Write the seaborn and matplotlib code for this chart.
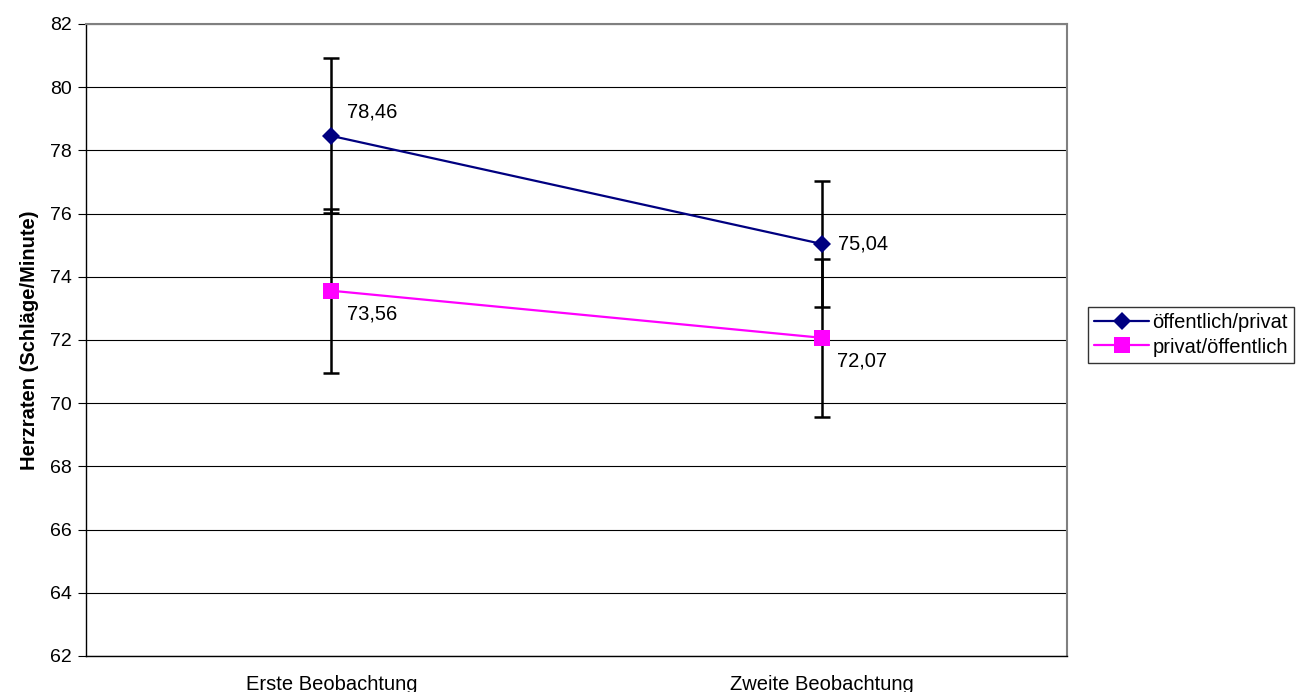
import numpy as np
import pandas as pd
import matplotlib
matplotlib.use('Agg')
import matplotlib.pyplot as plt
import seaborn as sns
from matplotlib.lines import Line2D

# Data
categories = ['Erste Beobachtung', 'Zweite Beobachtung']
series_names = ['öffentlich/privat', 'privat/öffentlich']
oeff_priv = [78.46, 75.04]
priv_oeff = [73.56, 72.07]
oeff_priv_err = [2.45, 2.0]
priv_oeff_err = [2.6, 2.5]
y_ticks = [62, 64, 66, 68, 70, 72, 74, 76, 78, 80, 82]

sns.set_style('white')
plt.rcParams['font.family'] = ['Liberation Sans', 'DejaVu Sans']
plt.rcParams['text.color'] = 'black'
plt.rcParams['axes.labelcolor'] = 'black'
plt.rcParams['xtick.color'] = 'black'
plt.rcParams['ytick.color'] = 'black'

fs = 14.5

df = pd.DataFrame({
    'x': [0, 1, 0, 1],
    'Herzrate': oeff_priv + priv_oeff,
    'Gruppe': [series_names[0]] * 2 + [series_names[1]] * 2,
})

fig = plt.figure(figsize=(12.96, 6.92), dpi=100)
ax = fig.add_axes([86 / 1296, 1 - 656 / 692, (1067 - 86) / 1296, (656 - 24) / 692])

# horizontal gridlines
for t in y_ticks:
    ax.axhline(t, color='black', lw=0.8, zorder=0)

# error bars
ax.errorbar([0, 1], oeff_priv, yerr=oeff_priv_err, fmt='none', ecolor='black',
            elinewidth=1.8, capsize=6, capthick=1.8, zorder=2)
ax.errorbar([0, 1], priv_oeff, yerr=priv_oeff_err, fmt='none', ecolor='black',
            elinewidth=1.8, capsize=6, capthick=1.8, zorder=2)

palette = {series_names[0]: '#000080', series_names[1]: '#ff00ff'}
sns.lineplot(data=df, x='x', y='Herzrate', hue='Gruppe', style='Gruppe',
             markers={series_names[0]: 'D', series_names[1]: 's'},
             dashes=False, palette=palette, markersize=9, markeredgewidth=0,
             lw=1.6, ax=ax, legend=False, zorder=3)
ax.lines[-1].set_markersize(11)

# data labels
def fmt(v):
    return f'{v:.2f}'.replace('.', ',')

ax.annotate(fmt(oeff_priv[0]), (0, oeff_priv[0]), xytext=(11, 17),
            textcoords='offset points', fontsize=fs, va='center')
ax.annotate(fmt(oeff_priv[1]), (1, oeff_priv[1]), xytext=(12, 0),
            textcoords='offset points', fontsize=fs, va='center')
for i, v in enumerate(priv_oeff):
    ax.annotate(fmt(v), (i, v), xytext=(11, -16.5), textcoords='offset points',
                fontsize=fs, va='center')

ax.set_xlim(-0.5, 1.5)
ax.set_ylim(62, 82)
ax.set_yticks(y_ticks)
ax.set_yticklabels([str(t) for t in y_ticks], fontsize=14)
ax.set_xticks([0, 1])
ax.set_xticklabels(categories, fontsize=fs)
ax.set_xticks([-0.5, 0.5, 1.5], minor=True)
ax.tick_params(axis='x', which='major', length=0, pad=14)
ax.tick_params(axis='x', which='minor', length=6, width=0.8, direction='out', color='black')
ax.tick_params(axis='y', length=6, width=0.8, direction='out', color='black', left=True, pad=4)
ax.set_xlabel('')
ax.set_ylabel('Herzraten (Schläge/Minute)', fontsize=fs, fontweight='bold', labelpad=8)

for side in ['top', 'right']:
    ax.spines[side].set_color('#808080')
    ax.spines[side].set_linewidth(1.5)
for side in ['left', 'bottom']:
    ax.spines[side].set_color('black')
    ax.spines[side].set_linewidth(1.0)

handles = [
    Line2D([], [], color='#000080', marker='D', markersize=9, markeredgewidth=0, lw=1.6),
    Line2D([], [], color='#ff00ff', marker='s', markersize=11, markeredgewidth=0, lw=1.6),
]
leg = fig.legend(handles, series_names, loc='center left',
                 bbox_to_anchor=(1088 / 1296, 1 - 335 / 692), fontsize=fs,
                 frameon=True, fancybox=False, edgecolor='black',
                 handlelength=2.75, handletextpad=0.15, borderpad=0.3,
                 labelspacing=0.25, borderaxespad=0)
leg.get_frame().set_linewidth(1.0)

fig.savefig('out.png', dpi=100)
